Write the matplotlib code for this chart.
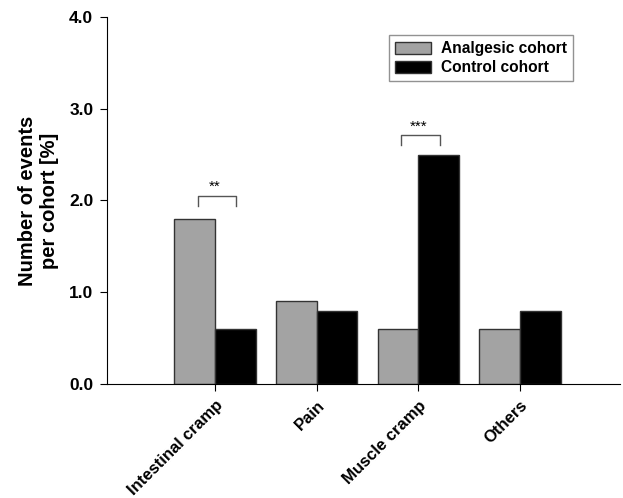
import numpy as np
import matplotlib.pyplot as plt

plt.rcParams["font.family"] = ["Liberation Sans", "DejaVu Sans"]
plt.rcParams["font.weight"] = "bold"

categories = ["Intestinal cramp", "Pain", "Muscle cramp", "Others"]
analgesic = [1.8, 0.9, 0.6, 0.6]
control = [0.6, 0.8, 2.5, 0.8]
yticks = [0.0, 1.0, 2.0, 3.0, 4.0]

# significance brackets: (category index, bracket height, label)
brackets = [(0, 2.05, "**"), (2, 2.71, "***")]

fig = plt.figure(figsize=(6.23, 4.98), dpi=100)
ax = fig.add_axes([0.172, 0.229, 0.823, 0.737])

x = np.arange(len(categories))
w = 0.4
ax.bar(x - w / 2, analgesic, w, color="#a3a3a3", edgecolor="#333333",
       linewidth=1, label="Analgesic cohort")
ax.bar(x + w / 2, control, w, color="black", edgecolor="#333333",
       linewidth=1, label="Control cohort")

# brackets
for i, h, lab in brackets:
    x0, x1 = i - w / 2 + 0.03, i + w / 2 + 0.01
    ax.plot([x0, x0, x1, x1], [h - 0.11, h, h, h - 0.11],
            color="#555555", linewidth=1)
    ax.text(i, h + 0.02, lab, ha="center", va="bottom",
            fontsize=11, fontweight="normal")

ax.set_xlim(-1.06, 3.98)
ax.set_ylim(0, 4.0)
ax.set_yticks(yticks)
ax.set_yticklabels([f"{t:.1f}" for t in yticks], fontsize=12.5, fontweight="bold")
ax.set_xticks(x)
ax.set_xticklabels(categories, rotation=45, ha="right", rotation_mode="anchor",
                   fontsize=12, fontweight="bold")
ax.tick_params(axis="x", length=5, direction="out", pad=5)
ax.tick_params(axis="y", length=5, direction="out", pad=5)
ax.spines["top"].set_visible(False)
ax.spines["right"].set_visible(False)
ax.set_ylabel("Number of events\nper cohort [%]", fontsize=14.5,
              fontweight="bold", labelpad=7)

leg = ax.legend(loc="upper left", bbox_to_anchor=(0.624, 0.93),
                bbox_transform=fig.transFigure, frameon=True, fancybox=False,
                edgecolor="#777777", prop={"weight": "bold", "size": 11.2},
                handlelength=2.3, handleheight=0.8, handletextpad=0.65,
                borderpad=0.4, labelspacing=0.25, borderaxespad=0)
leg.get_frame().set_linewidth(1)

fig.savefig("out.png", dpi=100)
